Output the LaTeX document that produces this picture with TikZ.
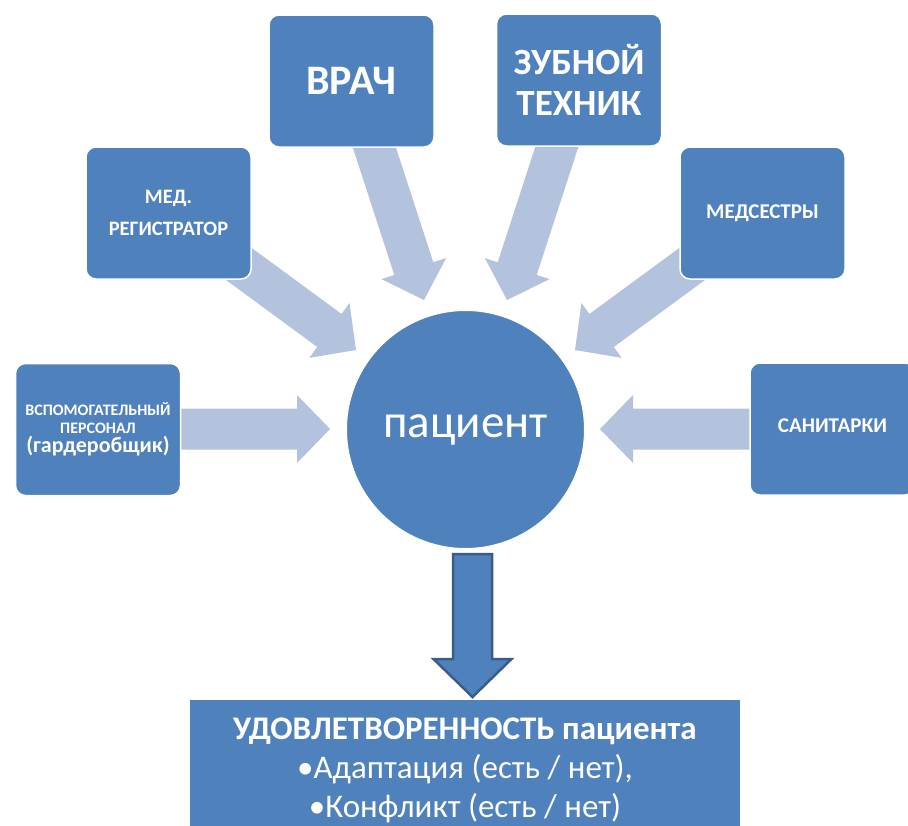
\documentclass[tikz,border=0pt]{standalone}
\usepackage{fontspec}
\setmainfont{Carlito}
\usetikzlibrary{calc}
\definecolor{boxblue}{RGB}{79,129,189}
\definecolor{paleblue}{RGB}{179,194,221}
\definecolor{darkblue}{RGB}{56,93,138}
\tikzset{
  rolebox/.style={draw=white, line width=1.5pt, fill=boxblue, rounded corners=10pt,
    minimum width=165pt, minimum height=132pt, text=white, align=center, inner sep=0pt},
  patcircle/.style={circle, fill=boxblue, draw=white, line width=1pt, minimum size=238pt,
    inner sep=0pt, text=white},
  resultbox/.style={fill=boxblue, draw=none, minimum width=550pt, minimum height=140pt,
    text=white, align=center, inner sep=0pt, anchor=north},
  pale/.style={fill=paleblue, draw=none},
  downarr/.style={fill=boxblue, draw=darkblue, line width=2.5pt, line join=miter}
}
% block arrow: tail coordinate, tip coordinate, id
\newcommand\blockarrow[4][pale]{%
  \coordinate (hb-#4) at ($(#3)!33pt!(#2)$);
  \path[#1] ($(#2)!20.5pt!90:(#3)$) -- ($(hb-#4)!20.5pt!90:(#3)$) -- ($(hb-#4)!34pt!90:(#3)$)
    -- (#3) -- ($(hb-#4)!34pt!-90:(#3)$) -- ($(hb-#4)!20.5pt!-90:(#3)$)
    -- ($(#2)!20.5pt!-90:(#3)$) -- cycle;
}
\begin{document}
\begin{tikzpicture}[x=1pt,y=-1pt]
\useasboundingbox (0,0) rectangle (908,825);
\clip (0,0) rectangle (908,825);
\fill[white] (0,0) rectangle (908,825);

% arrow end points
\coordinate (t-vrach) at (370,134);  \coordinate (h-vrach) at (424,300);
\coordinate (t-zub)   at (561,134);  \coordinate (h-zub)   at (507,300);
\coordinate (t-reg)   at (228,256);  \coordinate (h-reg)   at (356,350);
\coordinate (t-med)   at (703,256);  \coordinate (h-med)   at (575,350);
\coordinate (t-vsp)   at (170,429);  \coordinate (h-vsp)   at (330,429);
\coordinate (t-san)   at (765,429);  \coordinate (h-san)   at (600,429);

\blockarrow{t-vrach}{h-vrach}{a1}
\blockarrow{t-zub}{h-zub}{a2}
\blockarrow{t-reg}{h-reg}{a3}
\blockarrow{t-med}{h-med}{a4}
\blockarrow{t-vsp}{h-vsp}{a5}
\blockarrow{t-san}{h-san}{a6}

% boxes
\node[rolebox, font=\bfseries\fontsize{42pt}{46pt}\selectfont] (vrach) at (351.5,81) {ВРАЧ};
\node[rolebox, font=\bfseries\fontsize{37pt}{41pt}\selectfont] (zub) at (579,80) {ЗУБНОЙ\\ТЕХНИК};
\node[rolebox, font=\bfseries\fontsize{20.5pt}{32pt}\selectfont] (reg) at (168.5,213) {МЕД.\\РЕГИСТРАТОР};
\node[rolebox, font=\bfseries\fontsize{21pt}{25pt}\selectfont] (med) at (762.5,213) {МЕДСЕСТРЫ};
\node[rolebox, font=\bfseries\fontsize{16pt}{18pt}\selectfont] (vsp) at (98,429.5) {ВСПОМОГАТЕЛЬНЫЙ\\ПЕРСОНАЛ\\[1pt]{\fontsize{22pt}{24pt}\selectfont (гардеробщик)}};
\node[rolebox, font=\bfseries\fontsize{21pt}{25pt}\selectfont] (san) at (832.5,429) {САНИТАРКИ\rule[-6pt]{0pt}{0pt}};

% patient
\node[patcircle, font=\fontsize{47pt}{52pt}\selectfont] (pat) at (465.5,429.5) {пациент};

% down arrow
\coordinate (dtail) at (472.5,554);
\coordinate (dtip) at (472.5,697);
\coordinate (dhb) at ($(dtip)!38pt!(dtail)$);
\draw[downarr] ($(dtail)!19.5pt!90:(dtip)$) -- ($(dhb)!19.5pt!90:(dtip)$) -- ($(dhb)!39pt!90:(dtip)$)
  -- (dtip) -- ($(dhb)!39pt!-90:(dtip)$) -- ($(dhb)!19.5pt!-90:(dtip)$)
  -- ($(dtail)!19.5pt!-90:(dtip)$) -- cycle;

% result
\node[resultbox, font=\fontsize{33pt}{39pt}\selectfont] (res) at (465,700) {\textbf{УДОВЛЕТВОРЕННОСТЬ пациента}\\
  •Адаптация (есть / нет),\\•Конфликт (есть / нет)};
\end{tikzpicture}
\end{document}
